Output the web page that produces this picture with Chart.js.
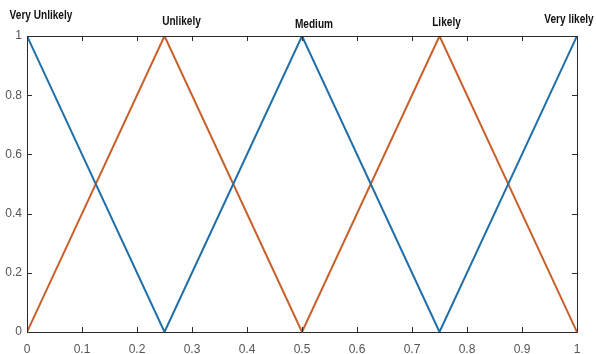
<!DOCTYPE html>
<html>
<head>
<meta charset="utf-8">
<script src="https://cdn.jsdelivr.net/npm/chart.js@4/dist/chart.umd.min.js"></script>
<style>
  html, body { margin: 0; padding: 0; background: #ffffff; }
  #wrap { width: 596px; height: 354px; position: relative; }
</style>
</head>
<body>
<div id="wrap"><canvas id="c" width="596" height="354"></canvas></div>
<script>
// Membership function breakpoints on the universe of discourse [0, 1]
const breakpoints = [0, 0.25, 0.5, 0.75, 1];
// Alternating triangular memberships
const blueMembership = [1, 0, 1, 0, 1];
const orangeMembership = [0, 1, 0, 1, 0];
// Linguistic terms placed over each peak
const termNames = ['Very Unlikely', 'Unlikely', 'Medium', 'Likely', 'Very likely'];
const termX = [0, 0.25, 0.5, 0.75, 1];
// Tick values
const xTicks = [0, 0.1, 0.2, 0.3, 0.4, 0.5, 0.6, 0.7, 0.8, 0.9, 1];
const yTicks = [0, 0.2, 0.4, 0.6, 0.8, 1];

// Pixel nudges for the term labels (dx from peak, y from top of canvas)
const termLayout = [
  { dx: 14, y: 16 },
  { dx: 17, y: 22 },
  { dx: 12, y: 25 },
  { dx: 7, y: 23 },
  { dx: -8, y: 20 }
];

const toPoints = (xs, ys) => xs.map((x, i) => ({ x: x, y: ys[i] }));
const fmt = v => String(Number(v.toFixed(1)));

const AXIS = '#2a2a2a';
const TICK_TEXT = '#555555';

// Draws the box outline, inward tick marks and the term labels
const boxAndTerms = {
  id: 'boxAndTerms',
  afterDatasetsDraw(chart) {
    const { ctx, chartArea: a, scales } = chart;
    const xs = scales.x, ys = scales.y;
    ctx.save();
    ctx.strokeStyle = AXIS;
    ctx.lineWidth = 1;
    ctx.beginPath();
    ctx.rect(Math.round(a.left) + 0.5, Math.round(a.top) + 0.5,
             Math.round(a.right - a.left), Math.round(a.bottom - a.top));
    ctx.stroke();
    const len = 5;
    ctx.beginPath();
    xTicks.forEach(v => {
      const px = Math.round(xs.getPixelForValue(v)) + 0.5;
      ctx.moveTo(px, a.bottom); ctx.lineTo(px, a.bottom - len);
      ctx.moveTo(px, a.top); ctx.lineTo(px, a.top + len);
    });
    yTicks.forEach(v => {
      const py = Math.round(ys.getPixelForValue(v)) + 0.5;
      ctx.moveTo(a.left, py); ctx.lineTo(a.left + len, py);
      ctx.moveTo(a.right, py); ctx.lineTo(a.right - len, py);
    });
    ctx.stroke();

    // Condensed bold term labels
    ctx.fillStyle = '#111111';
    ctx.font = 'bold 12px "Liberation Sans", Arial, sans-serif';
    ctx.textAlign = 'center';
    ctx.textBaseline = 'middle';
    const squeeze = 0.84;
    termNames.forEach((name, i) => {
      const px = xs.getPixelForValue(termX[i]) + termLayout[i].dx;
      ctx.save();
      ctx.translate(px, termLayout[i].y);
      ctx.scale(squeeze, 1);
      ctx.fillText(name, 0, 0);
      ctx.restore();
    });
    ctx.restore();
  }
};

new Chart(document.getElementById('c'), {
  type: 'scatter',
  data: {
    datasets: [
      {
        data: toPoints(breakpoints, blueMembership),
        showLine: true,
        borderColor: '#1F6FA8',
        borderWidth: 2,
        pointRadius: 0,
        tension: 0
      },
      {
        data: toPoints(breakpoints, orangeMembership),
        showLine: true,
        borderColor: '#C8602C',
        borderWidth: 2,
        pointRadius: 0,
        tension: 0
      }
    ]
  },
  options: {
    responsive: false,
    animation: false,
    devicePixelRatio: 1,
    layout: { padding: { top: 36, right: 19, left: 0, bottom: 0 } },
    plugins: { legend: { display: false }, tooltip: { enabled: false } },
    scales: {
      x: {
        type: 'linear',
        min: 0, max: 1,
        afterBuildTicks: s => { s.ticks = xTicks.map(v => ({ value: v })); },
        afterFit: s => { s.height = 22; },
        grid: { display: false, drawTicks: false },
        border: { display: false },
        ticks: {
          padding: 10,
          color: TICK_TEXT,
          font: { family: '"Liberation Sans", Arial, sans-serif', size: 12 },
          maxRotation: 0,
          autoSkip: false,
          callback: v => fmt(v)
        }
      },
      y: {
        type: 'linear',
        min: 0, max: 1,
        afterBuildTicks: s => { s.ticks = yTicks.map(v => ({ value: v })); },
        afterFit: s => { s.width = 27; },
        grid: { display: false, drawTicks: false },
        border: { display: false },
        ticks: {
          padding: 5,
          color: TICK_TEXT,
          font: { family: '"Liberation Sans", Arial, sans-serif', size: 12 },
          autoSkip: false,
          callback: v => fmt(v)
        }
      }
    }
  },
  plugins: [boxAndTerms]
});
</script>
</body>
</html>
